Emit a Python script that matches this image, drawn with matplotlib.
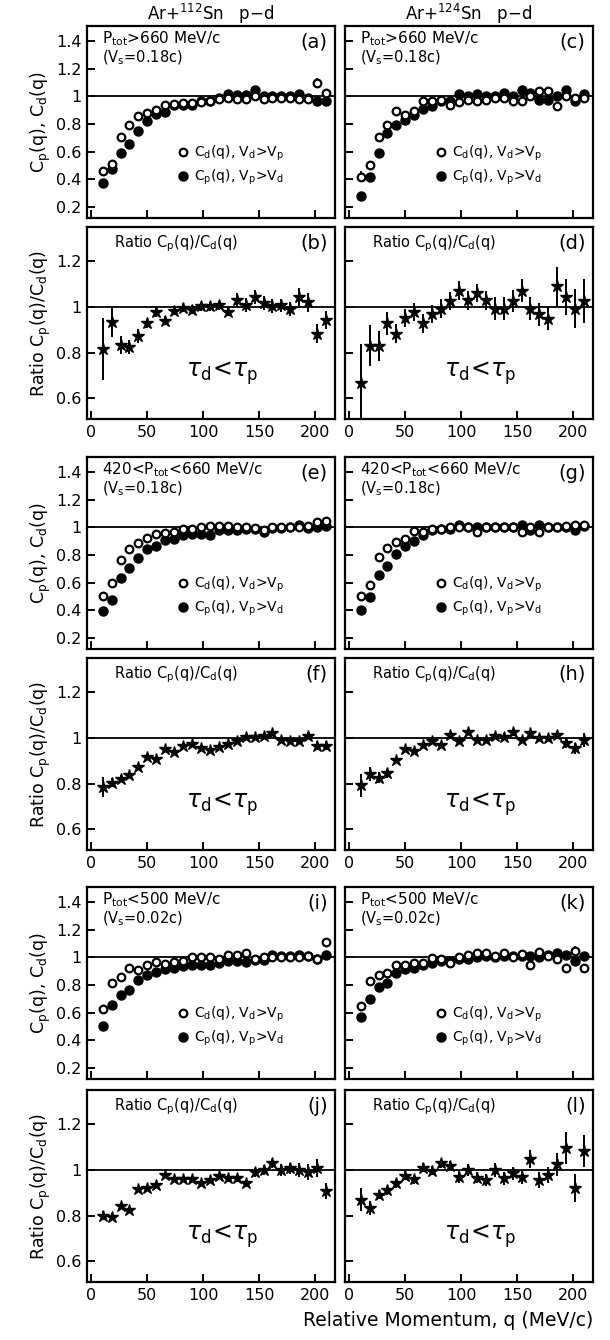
import numpy as np
import matplotlib.pyplot as plt
from matplotlib.ticker import FuncFormatter

# bin centres of the relative momentum (MeV/c)
q = [10, 18, 26, 34, 42, 50, 58, 66, 74, 82, 90, 98, 106, 114, 122, 130,
     138, 146, 154, 162, 170, 178, 186, 194, 202, 210]

#------------------------------------------------------------------------------
# correlation functions: cd = C_d(q) with V_d>V_p, cp = C_p(q) with V_p>V_d
cd_a = [0.46, 0.51, 0.71, 0.79, 0.855, 0.88, 0.90, 0.94, 0.945, 0.95, 0.955, 0.96, 0.97,
        0.98, 0.99, 0.985, 0.985, 1.0, 0.98, 0.99, 0.99, 0.99, 0.98, 0.985, 1.10, 1.025]
cp_a = [0.375, 0.475, 0.59, 0.655, 0.747, 0.824, 0.875, 0.885, 0.935, 0.935, 0.94, 0.97, 0.97,
        0.99, 1.02, 1.01, 1.01, 1.05, 1.0, 1.0, 1.0, 1.0, 1.02, 0.99, 0.965, 0.965]
cd_c = [0.42, 0.506, 0.706, 0.795, 0.896, 0.867, 0.896, 0.97, 0.964, 0.976, 0.937, 0.957, 0.973,
        0.964, 0.976, 0.99, 0.99, 0.964, 0.97, 1.0, 1.036, 1.04, 0.93, 1.0, 0.99, 0.99]
cp_c = [0.28, 0.417, 0.59, 0.733, 0.79, 0.826, 0.867, 0.91, 0.933, 0.97, 0.97, 1.02, 1.0,
        1.02, 1.0, 1.0, 1.024, 1.0, 1.05, 1.024, 0.976, 0.976, 1.0, 1.05, 0.964, 1.02]
cd_e = [0.507, 0.596, 0.763, 0.842, 0.89, 0.92, 0.955, 0.962, 0.97, 0.986, 0.99, 1.0, 1.01,
        1.01, 1.014, 1.0, 1.0, 0.995, 0.985, 1.0, 1.0, 1.0, 1.0, 1.01, 1.04, 1.048]
cp_e = [0.397, 0.476, 0.632, 0.708, 0.782, 0.842, 0.866, 0.907, 0.919, 0.943, 0.955, 0.955, 0.947,
        0.978, 0.978, 0.978, 0.986, 0.986, 0.967, 0.995, 0.995, 1.0, 1.02, 0.995, 1.0, 1.014]
cd_g = [0.505, 0.584, 0.787, 0.85, 0.895, 0.919, 0.971, 0.967, 0.986, 0.99, 1.0, 1.0, 1.0,
        0.97, 1.0, 1.0, 1.0, 1.0, 0.97, 1.0, 0.97, 1.0, 1.0, 1.01, 1.02, 1.02]
cp_g = [0.404, 0.5, 0.655, 0.72, 0.81, 0.866, 0.902, 0.943, 0.978, 0.99, 0.99, 1.02, 1.0,
        1.0, 1.0, 1.0, 1.0, 1.0, 1.02, 0.98, 1.02, 1.0, 1.0, 1.0, 0.985, 1.01]
cd_i = [0.626, 0.812, 0.857, 0.924, 0.907, 0.948, 0.967, 0.95, 0.967, 0.976, 1.0, 1.005, 1.005,
        0.99, 1.02, 1.02, 1.03, 0.99, 1.0, 1.0, 1.0, 1.0, 1.0, 1.01, 0.99, 1.114]
cp_i = [0.502, 0.657, 0.729, 0.764, 0.84, 0.876, 0.895, 0.919, 0.924, 0.936, 0.948, 0.943, 0.948,
        0.96, 0.976, 0.976, 0.967, 0.983, 0.983, 1.02, 1.007, 1.007, 1.02, 1.014, 0.99, 1.02]
cd_k = [0.65, 0.829, 0.871, 0.888, 0.943, 0.943, 0.96, 0.96, 0.995, 0.99, 0.96, 1.0, 1.02,
        1.03, 1.03, 1.007, 1.03, 1.0, 1.024, 0.948, 1.043, 1.014, 0.99, 0.924, 1.05, 0.924]
cp_k = [0.567, 0.698, 0.786, 0.817, 0.888, 0.919, 0.924, 0.943, 0.96, 0.971, 0.976, 0.99, 0.99,
        1.0, 1.007, 1.0, 1.007, 1.014, 1.007, 1.007, 1.0, 1.02, 1.03, 1.02, 0.976, 1.007]

# visible error bars on a few of the circle series
cd_a_err = [0.01, 0.01, 0.01, 0.01, 0.01, 0.01, 0.01, 0.01, 0.01, 0.01, 0.01, 0.01, 0.01,
            0.01, 0.01, 0.01, 0.01, 0.01, 0.01, 0.01, 0.015, 0.015, 0.015, 0.02, 0.03, 0.025]
cd_c_err = [0.04, 0.02, 0.01, 0.01, 0.01, 0.01, 0.01, 0.01, 0.01, 0.01, 0.01, 0.01, 0.01,
            0.01, 0.01, 0.01, 0.01, 0.015, 0.015, 0.015, 0.02, 0.02, 0.02, 0.025, 0.025, 0.025]
cp_c_err = [0.03, 0.02, 0.01, 0.01, 0.01, 0.01, 0.01, 0.01, 0.01, 0.01, 0.01, 0.01, 0.01,
            0.01, 0.01, 0.01, 0.01, 0.015, 0.015, 0.015, 0.02, 0.02, 0.02, 0.025, 0.03, 0.03]
cd_i_err = [0.01, 0.01, 0.01, 0.01, 0.01, 0.01, 0.01, 0.01, 0.01, 0.01, 0.01, 0.01, 0.01,
            0.01, 0.01, 0.01, 0.01, 0.01, 0.01, 0.01, 0.015, 0.015, 0.015, 0.02, 0.02, 0.03]
cd_k_err = [0.02, 0.01, 0.01, 0.01, 0.01, 0.01, 0.01, 0.01, 0.01, 0.01, 0.01, 0.01, 0.01,
            0.01, 0.01, 0.01, 0.01, 0.015, 0.015, 0.02, 0.02, 0.02, 0.02, 0.03, 0.03, 0.03]

#------------------------------------------------------------------------------
# ratio C_p(q)/C_d(q) with errors
r_b = [0.815, 0.935, 0.833, 0.826, 0.872, 0.928, 0.978, 0.94, 0.983, 0.997, 0.988, 1.003, 1.003,
       1.007, 0.98, 1.03, 1.01, 1.043, 1.017, 1.004, 1.007, 0.99, 1.043, 1.02, 0.884, 0.942]
e_b = [0.135, 0.065, 0.04, 0.03, 0.03, 0.02, 0.02, 0.02, 0.02, 0.02, 0.02, 0.02, 0.02,
       0.02, 0.02, 0.03, 0.03, 0.03, 0.03, 0.03, 0.03, 0.03, 0.04, 0.04, 0.04, 0.04]
r_d = [0.667, 0.83, 0.83, 0.928, 0.884, 0.952, 0.978, 0.928, 0.968, 0.993, 1.026, 1.072, 1.029,
       1.061, 1.029, 0.993, 0.993, 1.026, 1.072, 0.993, 0.968, 0.949, 1.09, 1.043, 0.993, 1.026]
e_d = [0.17, 0.09, 0.065, 0.05, 0.04, 0.04, 0.04, 0.04, 0.04, 0.04, 0.04, 0.04, 0.04,
       0.04, 0.04, 0.05, 0.05, 0.05, 0.05, 0.05, 0.05, 0.05, 0.085, 0.08, 0.085, 0.095]
r_f = [0.786, 0.804, 0.822, 0.84, 0.872, 0.919, 0.909, 0.952, 0.938, 0.967, 0.974, 0.957, 0.948,
       0.959, 0.974, 0.988, 1.006, 1.006, 1.01, 1.02, 0.991, 0.988, 0.988, 1.01, 0.967, 0.967]
e_f = [0.045, 0.02, 0.015, 0.01, 0.01, 0.01, 0.01, 0.01, 0.01, 0.01, 0.01, 0.01, 0.01,
       0.01, 0.01, 0.01, 0.01, 0.01, 0.01, 0.01, 0.015, 0.015, 0.015, 0.015, 0.02, 0.02]
r_h = [0.793, 0.843, 0.826, 0.846, 0.904, 0.952, 0.942, 0.971, 0.986, 0.971, 1.014, 0.986, 1.028,
       0.991, 0.991, 1.01, 1.006, 1.025, 0.991, 1.02, 1.0, 1.0, 1.014, 0.977, 0.955, 0.991]
e_h = [0.05, 0.03, 0.025, 0.02, 0.015, 0.01, 0.01, 0.01, 0.01, 0.01, 0.01, 0.01, 0.01,
       0.01, 0.01, 0.01, 0.015, 0.015, 0.015, 0.015, 0.015, 0.015, 0.015, 0.02, 0.025, 0.03]
r_j = [0.8, 0.796, 0.844, 0.827, 0.919, 0.921, 0.936, 0.978, 0.96, 0.96, 0.96, 0.945, 0.956,
       0.975, 0.963, 0.963, 0.941, 0.99, 1.0, 1.03, 1.0, 1.007, 1.0, 0.993, 1.01, 0.907]
e_j = [0.02, 0.015, 0.01, 0.01, 0.01, 0.01, 0.01, 0.01, 0.01, 0.01, 0.01, 0.01, 0.01,
       0.01, 0.015, 0.015, 0.015, 0.02, 0.02, 0.02, 0.025, 0.025, 0.03, 0.035, 0.04, 0.035]
r_l = [0.87, 0.833, 0.892, 0.911, 0.941, 0.975, 0.96, 1.01, 0.996, 1.03, 1.019, 0.97, 1.0,
       0.966, 0.956, 1.0, 0.963, 0.985, 0.97, 1.049, 0.956, 0.978, 1.025, 1.096, 0.921, 1.084]
e_l = [0.05, 0.03, 0.02, 0.02, 0.02, 0.02, 0.02, 0.02, 0.02, 0.02, 0.02, 0.025, 0.025,
       0.025, 0.025, 0.03, 0.03, 0.03, 0.03, 0.04, 0.035, 0.035, 0.05, 0.07, 0.06, 0.07]

col_titles = [r'Ar+$^{112}$Sn   p$-$d', r'Ar+$^{124}$Sn   p$-$d']
cut_labels = [r'P$_{\rm tot}$>660 MeV/c', r'420<P$_{\rm tot}$<660 MeV/c', r'P$_{\rm tot}$<500 MeV/c']
vs_labels = [r'(V$_{\rm s}$=0.18c)', r'(V$_{\rm s}$=0.18c)', r'(V$_{\rm s}$=0.02c)']

corr = [[(cd_a, cp_a, cd_a_err, None), (cd_c, cp_c, cd_c_err, cp_c_err)],
        [(cd_e, cp_e, None, None), (cd_g, cp_g, None, None)],
        [(cd_i, cp_i, cd_i_err, None), (cd_k, cp_k, cd_k_err, None)]]
ratio = [[(r_b, e_b), (r_d, e_d)],
         [(r_f, e_f), (r_h, e_h)],
         [(r_j, e_j), (r_l, e_l)]]
letters = [['a', 'b', 'c', 'd'], ['e', 'f', 'g', 'h'], ['i', 'j', 'k', 'l']]

#------------------------------------------------------------------------------
W, H = 610, 1340
col_x = [87, 345]
col_w = 248
row_tops = [26, 227, 457, 658, 887, 1090]
row_h = 192

fmt = FuncFormatter(lambda v, p: '%g' % v)


def make_ax(col, row):
    left = col_x[col] / W
    bottom = 1 - (row_tops[row] + row_h) / H
    ax = fig.add_axes([left, bottom, col_w / W, row_h / H])
    for s in ax.spines.values():
        s.set_linewidth(1.6)
    ax.set_xlim(-4, 218)
    ax.set_xticks([0, 50, 100, 150, 200])
    ax.tick_params(direction='in', length=6, width=1.4, labelsize=11.5,
                   top=False, right=False, pad=4)
    ax.yaxis.set_major_formatter(fmt)
    ax.axhline(1.0, color='black', lw=1.3, zorder=1)
    return ax


fig = plt.figure(figsize=(W / 100, H / 100), dpi=100)

for blk in range(3):
    for col in range(2):
        # correlation functions
        cd, cp, cd_err, cp_err = corr[blk][col]
        ax = make_ax(col, 2 * blk)
        ax.set_ylim(0.12, 1.51)
        ax.set_yticks([0.2, 0.4, 0.6, 0.8, 1.0, 1.2, 1.4])
        ax.tick_params(labelbottom=False)
        if cd_err is not None:
            ax.errorbar(q, cd, yerr=cd_err, fmt='none', ecolor='black', elinewidth=1.3, zorder=2)
        if cp_err is not None:
            ax.errorbar(q, cp, yerr=cp_err, fmt='none', ecolor='black', elinewidth=1.3, zorder=2)
        ax.plot(q, cp, 'o', color='black', ms=6.5, zorder=3,
                label=r'C$_{\rm p}$(q), V$_{\rm p}$>V$_{\rm d}$')
        ax.plot(q, cd, 'o', mfc='white', mec='black', mew=1.6, ms=5.5, zorder=4,
                label=r'C$_{\rm d}$(q), V$_{\rm d}$>V$_{\rm p}$')
        h, l = ax.get_legend_handles_labels()
        ax.legend(h[::-1], l[::-1], loc='lower left', bbox_to_anchor=(0.33, 0.13),
                  frameon=False, fontsize=10, handletextpad=0.2, labelspacing=0.35,
                  handlelength=1.2, borderaxespad=0)
        ax.text(0.06, 0.935, cut_labels[blk], transform=ax.transAxes, fontsize=11, va='center')
        ax.text(0.06, 0.835, vs_labels[blk], transform=ax.transAxes, fontsize=10.5, va='center')
        ax.text(0.97, 0.915, '(%s)' % letters[blk][2 * col], transform=ax.transAxes,
                fontsize=14, ha='right', va='center')
        if col == 0:
            ax.set_ylabel(r'C$_{\rm p}$(q), C$_{\rm d}$(q)', fontsize=12.5, labelpad=2)
        else:
            ax.tick_params(labelleft=False)
        if blk == 0:
            ax.set_title(col_titles[col], fontsize=12, pad=4)

        # ratio
        r, e = ratio[blk][col]
        ax = make_ax(col, 2 * blk + 1)
        ax.set_ylim(0.51, 1.35)
        ax.set_yticks([0.6, 0.8, 1.0, 1.2])
        ax.errorbar(q, r, yerr=e, fmt='*', color='black', ms=9, elinewidth=1.4,
                    capsize=0, zorder=3)
        ax.text(0.11, 0.915, r'Ratio C$_{\rm p}$(q)/C$_{\rm d}$(q)', transform=ax.transAxes,
                fontsize=10.5, va='center')
        ax.text(0.97, 0.915, '(%s)' % letters[blk][2 * col + 1], transform=ax.transAxes,
                fontsize=14, ha='right', va='center')
        ax.text(0.40, 0.24, r'$\tau_{\rm d}\!<\!\tau_{\rm p}$', transform=ax.transAxes,
                fontsize=17, va='center')
        if col == 0:
            ax.set_ylabel(r'Ratio C$_{\rm p}$(q)/C$_{\rm d}$(q)', fontsize=12.5, labelpad=2)
        else:
            ax.tick_params(labelleft=False)

fig.text(593 / W, 1 - 1320 / H, 'Relative Momentum, q (MeV/c)', ha='right', va='center',
         fontsize=13.5)

fig.savefig('out.png', dpi=100)
